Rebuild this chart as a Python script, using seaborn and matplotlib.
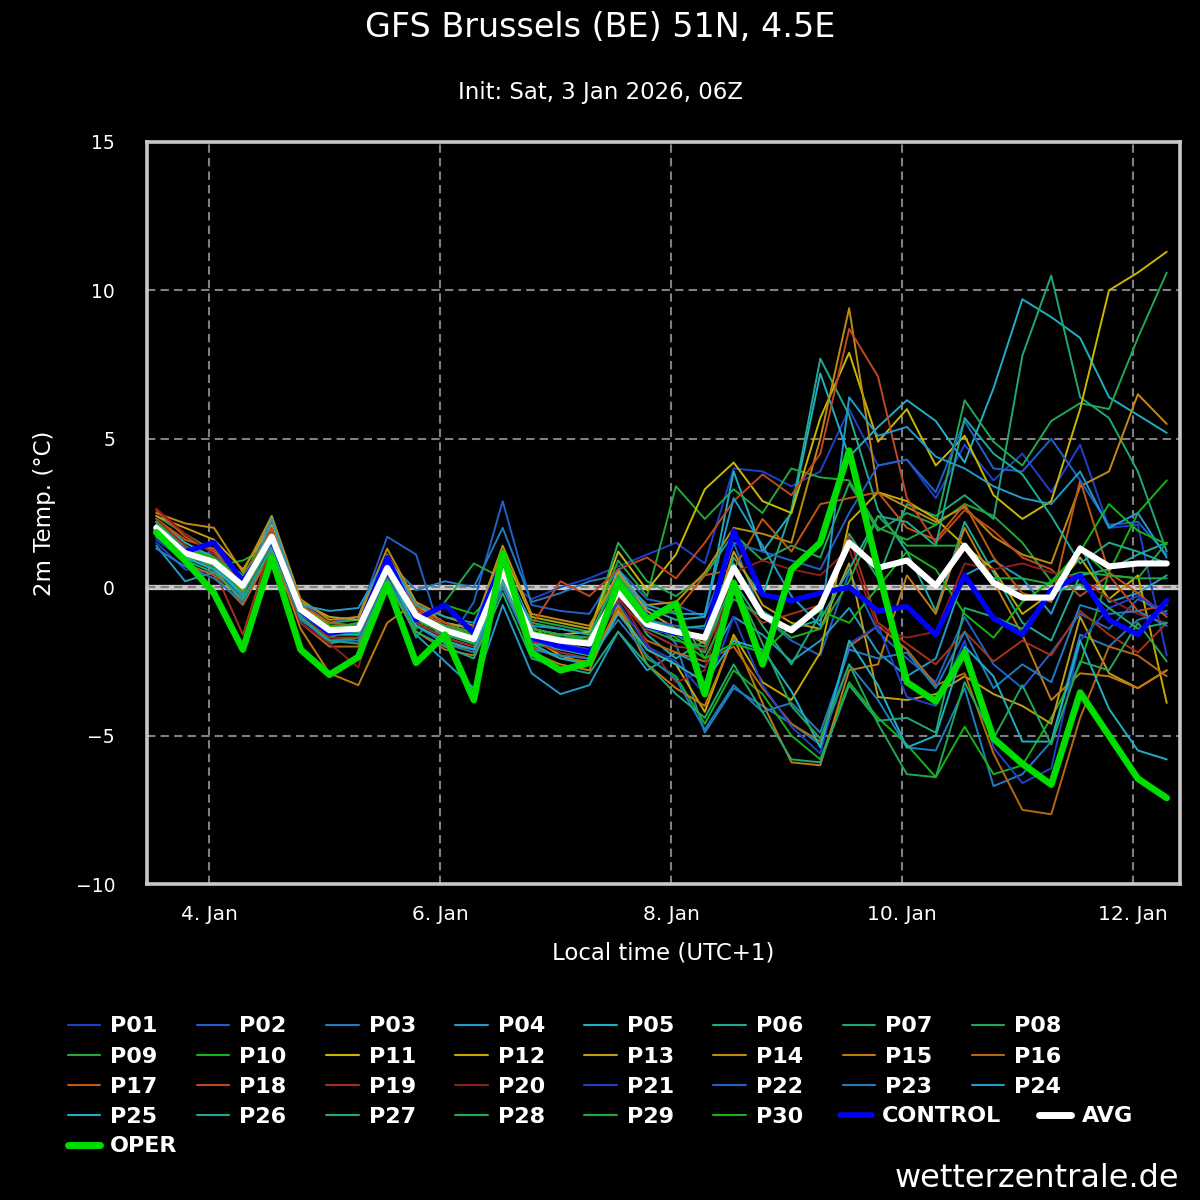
import matplotlib
matplotlib.use('Agg')
import numpy as np
import pandas as pd
import matplotlib.pyplot as plt
import seaborn as sns
from matplotlib.lines import Line2D

title = 'GFS Brussels (BE) 51N, 4.5E'
subtitle = 'Init: Sat, 3 Jan 2026, 06Z'
times = pd.date_range('2026-01-03 13:00', periods=36, freq='6h')
tick_dates = pd.to_datetime(['2026-01-04', '2026-01-06', '2026-01-08', '2026-01-10', '2026-01-12'])
tick_labels = ['4. Jan', '6. Jan', '8. Jan', '10. Jan', '12. Jan']
y_ticks = [-10, -5, 0, 5, 10, 15]

# ensemble members, 6-hourly, local time
p01 = [1.5, 0.6, 0.5, -0.3, 1.5, -0.9, -1.6, -1.5, 0.4, -1.2, -1.7, -2.0, 0.3,
       -0.4, 0.0, 0.3, 0.7, 1.1, 1.5, 0.8,
       4.0, 3.9, 3.4, 3.9, 6.0, 4.1, 4.3, 3.0, 4.8, 3.6, 4.5, 3.2, 4.8, 2.0, 2.1, -2.3]
p02 = [1.7, 1.3, 1.1, 0.2, 2.2, -0.5, -1.2, -1.0, 1.7, 1.1, -2.0, -0.5, 2.9,
       -0.6, -0.8, -0.9, 0.6, -0.4, -0.6, -1.0,
       1.5, -1.0, -1.8, -2.3, 0.5, -1.5, -2.4, -3.2, -1.0, -2.6, -3.4, -2.2, -0.9, -1.4, -0.4, -0.9]
p03 = [1.8, 1.0, 0.9, -0.1, 1.9, -0.7, -1.4, -1.2, 0.9, -0.1, 0.2, 0.0, 2.0,
       -0.5, -0.2, 0.2, 0.4, -0.9, -1.9, -4.9,
       -3.4, -4.0, -4.6, -5.3, -2.6, -3.8, -5.4, -5.5, -3.4, -6.7, -6.3, -5.2, -1.6, -2.0, -1.1, -0.8]
p04 = [1.4, 0.2, 0.5, -0.4, 1.6, -1.0, -1.9, -1.7, 0.2, -1.6, -2.5, -3.4, -0.6,
       -2.9, -3.6, -3.3, -1.5, -2.8, -2.2, -2.7,
       -1.0, -1.6, -2.5, -1.8, -0.7, -2.2, -3.0, -2.4, 0.4, 0.9, 0.3, -0.9, 1.4, -0.5, -0.2, 0.4]
p05 = [2.3, 1.5, 1.0, 0.2, 2.4, -0.6, -1.3, -1.6, 0.9, -0.7, -1.2, -1.4, 0.6,
       -1.5, -1.7, -1.8, 0.6, -0.7, -1.1, -1.0,
       3.9, 1.2, 2.5, 7.2, 4.4, 5.4, 6.3, 5.6, 4.2, 6.7, 9.7, 9.1, 8.4, 6.4, 5.8, 5.2]
p06 = [2.1, 1.1, 0.7, -0.2, 1.5, -1.1, -1.7, -1.3, 0.7, -1.0, -1.6, -1.9, 0.3,
       -1.9, -2.1, -2.3, 0.0, -1.6, -2.4, -1.8,
       1.0, -0.3, 2.6, 7.7, 5.8, 2.6, 1.2, -0.8, 2.2, 0.5, -1.2, -1.8, 0.4, 0.6, 1.1, 1.5]
p07 = [2.2, 1.2, 0.9, 0.0, 1.8, -0.8, -1.5, -1.5, 0.5, -1.1, -1.5, -1.8, 0.5,
       -1.8, -1.9, -2.1, -0.2, -1.4, -1.6, -2.2,
       0.2, -1.3, -2.6, -0.9, 1.8, 0.3, 2.8, 2.4, 3.1, 2.3, 7.8, 10.5, 6.4, 5.7, 3.9, 1.2]
p08 = [2.4, 1.8, 1.2, 0.4, 1.9, -0.6, -1.2, -1.1, 0.8, -0.8, -1.3, -1.6, 0.8,
       -1.2, -1.4, -1.6, 1.5, 0.2, -0.3, 0.4,
       1.8, 0.9, 1.4, 1.0, 3.5, 1.9, 2.5, 2.1, 6.3, 4.9, 4.1, 5.6, 6.2, 6.0, 8.4, 10.6]
p09 = [1.9, 1.4, 0.8, 0.1, 1.6, -0.9, -1.6, -1.4, 0.6, -1.7, -0.5, 0.8, 0.3,
       -1.1, -1.3, -1.5, 0.9, -0.3, 3.4, 2.3,
       3.3, 2.5, 4.0, 3.7, 3.6, 2.0, 1.6, 2.1, 2.8, 2.4, 1.5, 0.2, 0.5, 0.4, 0.3, 1.5]
p10 = [2.0, 1.0, 0.7, 0.9, 1.4, -1.0, -1.8, -1.7, 0.3, -1.4, -0.6, -0.9, 0.1,
       -1.3, -2.0, -2.2, -0.5, -2.4, -3.0, -4.6,
       -2.8, -3.6, -5.0, -5.8, -3.2, -4.4, -5.3, -6.4, -4.7, -6.3, -6.0, -4.4, -2.6, 0.5, 2.5, 3.6]
p11 = [2.2, 1.3, 1.0, 0.0, 1.8, -0.6, -1.3, -1.3, 0.8, -0.8, -1.4, -1.6, 1.0,
       -1.4, -1.6, -1.5, 1.2, -0.1, 1.1, 3.3,
       4.2, 2.9, 2.5, 5.7, 7.9, 4.9, 6.0, 4.1, 5.1, 3.1, 2.3, 2.9, 6.0, 10.0, 10.6, 11.3]
p12 = [2.0, 1.2, 0.8, -0.1, 1.7, -0.8, -1.5, -1.3, 0.7, -1.0, -1.5, -1.8, 0.4,
       -1.7, -2.3, -2.6, -0.8, -2.1, -2.6, -4.2,
       -1.6, -3.2, -3.8, -2.2, 2.2, 3.2, 2.9, 2.3, 1.4, 0.6, -0.9, -0.2, 1.0, -0.4, 0.4, -3.9]
p13 = [2.4, 2.0, 1.6, 0.6, 2.1, -0.5, -1.0, -1.1, 1.1, -0.6, -1.2, -1.4, 1.2,
       -1.0, -1.2, -1.4, 0.5, -0.8, -1.4, -1.9,
       1.2, -0.6, -1.2, -1.4, 0.8, -3.7, -3.8, -3.6, -3.0, -3.6, -4.0, -4.6, -1.0, -2.9, -3.4, -2.8]
p14 = [2.5, 2.15, 2.0, 0.5, 2.4, -0.4, -1.1, -1.0, 1.3, -0.5, -1.0, -1.3, 1.4,
       -0.9, -1.1, -1.3, 0.4, -0.6, -0.5, 0.5,
       2.0, 1.8, 1.5, 5.0, 9.4, 3.2, 2.7, 2.2, 2.7, 1.7, 1.1, 0.8, 3.4, 3.9, 6.5, 5.5]
p15 = [2.1, 1.0, 0.6, -0.5, 1.3, -1.4, -2.9, -3.3, -1.2, -0.5, -1.9, -2.1, 0.2,
       -2.2, -2.6, -2.8, -0.6, -2.6, -3.4, -4.0,
       -1.7, -3.9, -5.9, -6.0, -2.8, -2.6, 0.4, -0.9, 2.0, 0.2, -1.6, -3.8, -2.9, -3.0, -3.4, -2.8]
p16 = [1.8, 0.8, 0.4, -0.6, 1.2, -1.2, -2.0, -2.0, 0.1, -1.5, -2.1, -2.3, 0.0,
       -2.0, -2.4, -2.5, -0.7, -1.8, -2.2, -2.5,
       -2.0, -3.4, -4.6, -5.2, -2.0, -1.3, -2.1, -3.3, -2.9, -5.6, -7.5, -7.65, -4.4, -2.0, -2.3, -3.0]
p17 = [2.3, 1.6, 1.3, 0.3, 2.0, -0.6, -1.2, -1.3, 0.9, -0.8, -1.3, -1.5, 0.6,
       -1.6, -1.6, -1.7, -0.3, -1.0, -0.8, 0.4,
       0.6, 2.3, 1.2, 2.8, 3.0, 3.2, 2.0, 1.6, 2.8, 1.0, -0.2, -0.5, 3.6, 0.5, -0.2, -1.0]
p18 = [2.6, 1.7, 1.2, 0.1, 1.9, -0.7, -1.4, -1.3, 0.8, -0.7, -1.2, -1.6, 0.7,
       -1.3, 0.2, -0.3, 0.6, 1.0, 0.3, 1.5,
       2.9, 3.8, 3.1, 4.5, 8.7, 7.1, 3.0, 1.5, 2.6, 1.9, 1.0, 0.6, -0.3, 0.4, -0.8, -0.6]
p19 = [2.3, 1.4, 0.6, -1.6, 1.5, -1.0, -1.7, -1.7, 0.5, -1.2, -1.7, -2.0, 0.4,
       -1.8, -2.2, -2.4, -0.4, -1.5, -2.0, -2.1,
       -0.2, -1.2, -0.9, -0.6, 1.7, -1.2, -1.9, -2.6, -1.5, -2.5, -1.8, -2.3, -0.8, -1.6, -2.2, -1.2]
p20 = [2.65, 1.8, 1.1, -0.3, 1.6, -1.2, -1.9, -2.7, 0.4, -1.3, -1.8, -2.1, 0.3,
       -1.7, -2.0, -2.2, -0.3, -1.9, -3.2, -2.8,
       0.5, 0.9, 0.6, 0.4, 1.3, -1.4, -1.7, -1.5, 0.8, 0.6, 0.8, 0.5, 0.3, -0.4, -0.9, -1.2]
p21 = [1.6, 0.9, 0.8, -0.2, 1.7, -0.8, -1.5, -1.6, 0.6, -1.0, -1.5, -1.8, 0.5,
       -1.5, -1.9, -2.1, -0.5, -2.0, -2.5, -3.6,
       -1.0, -3.3, -4.7, -5.6, -1.9, -1.3, -3.7, -4.0, -1.8, -5.4, -6.6, -6.1, -1.8, -0.7, -0.3, -0.9]
p22 = [1.9, 1.1, 0.9, 0.1, 1.8, -0.7, -1.4, -1.4, 0.7, -0.9, -1.4, -1.7, 0.6,
       -1.6, -1.7, -1.9, -0.2, -1.1, -1.3, -1.4,
       1.5, 1.2, 0.9, 0.6, 2.5, 4.1, 4.3, 3.2, 5.6, 4.0, 3.9, 5.0, 3.6, 2.1, 2.2, 1.1]
p23 = [1.3, 0.7, 0.3, -0.5, 1.4, -1.1, -1.8, -1.8, 0.3, -1.3, -1.9, -2.2, 0.0,
       -2.1, -2.3, -2.4, -1.1, -2.3, -3.1, -4.8,
       -3.3, -4.2, -3.9, -4.9, -2.1, -2.4, -2.2, -3.4, -1.5, -3.4, -2.6, -3.2, -0.6, -0.9, -0.8, -1.3]
p24 = [2.0, 1.1, 0.7, -0.3, 2.3, -0.6, -0.8, -0.7, 1.0, -0.6, -1.0, -1.2, 0.9,
       -1.3, -1.4, -1.6, 0.3, -0.6, -0.9, -0.9,
       3.0, 1.4, -0.3, -1.3, 6.4, 5.1, 5.4, 4.4, 4.0, 3.4, 3.0, 2.8, 3.9, 2.0, 2.5, 1.0]
p25 = [1.7, 1.0, 0.6, -0.2, 1.7, -0.9, -1.6, -1.6, 0.5, -1.3, -1.8, -2.1, 0.2,
       -1.9, -2.4, -2.6, -0.9, -2.1, -2.6, -3.2,
       -1.8, -2.1, -3.5, -5.4, -1.8, -3.3, -5.4, -5.0, -2.0, -3.0, -5.2, -5.2, -1.8, -4.1, -5.5, -5.8]
p26 = [2.1, 1.2, 0.9, 0.0, 1.7, -0.8, -1.4, -1.4, 0.7, -0.9, -1.4, -1.7, 0.6,
       -1.4, -1.6, -1.8, 0.1, -1.1, -1.4, -1.3,
       0.8, -0.8, -1.4, -1.1, 0.6, 2.4, 2.2, 1.4, 5.7, 4.5, 3.8, 2.4, 0.8, 1.5, 1.2, 0.8]
p27 = [1.8, 0.9, 0.5, -0.4, 1.3, -1.0, -1.8, -1.9, 0.2, -1.5, -2.0, -2.4, -0.2,
       -2.4, -2.7, -2.9, -1.5, -2.6, -3.6, -4.4,
       -2.6, -4.2, -5.8, -5.9, -3.3, -4.5, -4.4, -4.9, -0.7, -1.0, -1.4, -0.2, 0.1, -0.7, -1.4, -1.2]
p28 = [2.2, 1.3, 0.8, -0.2, 1.5, -0.8, -1.6, -1.5, 0.5, -1.1, -1.6, -1.9, 0.4,
       -1.9, -2.0, -2.3, 0.2, -1.4, -1.8, -2.0,
       0.2, -1.9, -4.0, -5.1, -2.6, -4.6, -6.3, -6.4, -3.2, -5.1, -3.3, -5.3, -2.5, -2.8, -1.2, -2.5]
p29 = [1.9, 1.1, 0.7, 0.2, 1.6, -0.7, -1.4, -1.2, 0.8, -1.0, -1.3, -1.5, 0.7,
       -1.4, -1.6, -1.7, 0.4, -1.0, -0.8, -2.4,
       -0.4, -1.0, -1.7, -1.4, 0.2, 2.4, 1.4, 1.4, 1.4, 0.3, 0.3, 0.1, 1.3, 0.4, 0.3, 0.3]
p30 = [2.0, 1.3, 1.0, 0.3, 1.8, -0.7, -1.3, -1.3, 0.7, -1.0, -1.4, -1.6, 0.6,
       -1.5, -1.7, -1.8, 0.0, -1.1, -1.7, -2.4,
       -1.9, -2.2, -1.3, -0.8, -1.2, 0.0, 1.2, 0.6, -0.9, -1.7, -0.5, 0.2, 1.2, 2.8, 1.9, 1.45]

control = [2.0, 1.2, 1.5, 0.2, 1.6, -0.8, -1.55, -1.4, 1.0, -1.1, -0.6, -1.55, 0.9,
           -1.7, -2.0, -2.2, 0.05, -1.3, -1.55, -1.7,
           1.9, -0.25, -0.45, -0.2, 0.0, -0.8, -0.65, -1.6, 0.4, -1.05, -1.6, -0.1, 0.4, -1.1, -1.6, -0.45]
avg = [2.0, 1.15, 0.85, 0.05, 1.7, -0.75, -1.45, -1.4, 0.65, -0.95, -1.45, -1.75, 0.55,
       -1.6, -1.8, -1.9, -0.15, -1.25, -1.5, -1.7,
       0.65, -0.95, -1.45, -0.65, 1.5, 0.65, 0.9, 0.05, 1.4, 0.15, -0.35, -0.35, 1.3, 0.7, 0.8, 0.8]
oper = [1.85, 0.9, -0.2, -2.1, 1.0, -2.1, -2.95, -2.35, 0.1, -2.55, -1.6, -3.8, 1.15,
        -2.2, -2.8, -2.55, 0.15, -1.1, -0.55, -3.6,
        0.15, -2.6, 0.6, 1.5, 4.6, 0.6, -3.2, -3.85, -2.2, -5.1, -5.95, -6.65, -3.55, -5.0, -6.45, -7.1]

members = [p01, p02, p03, p04, p05, p06, p07, p08, p09, p10,
           p11, p12, p13, p14, p15, p16, p17, p18, p19, p20,
           p21, p22, p23, p24, p25, p26, p27, p28, p29, p30]
member_names = ['P%02d' % i for i in range(1, 31)]
cold_cols = ['#2040cc', '#2060c8', '#207cc0', '#209ac8', '#20afc0',
             '#20aa92', '#20a874', '#20a854', '#20a83c', '#14b414']
warm_cols = ['#c8b800', '#c8a800', '#c09c18', '#c08c10', '#c07a10',
             '#b86810', '#c05810', '#c04820', '#a83018', '#901c1c']
member_colors = cold_cols + warm_cols + cold_cols

df = pd.DataFrame({'time': times})
for name, vals in zip(member_names, members):
    df[name] = vals
df['CONTROL'] = control
df['AVG'] = avg
df['OPER'] = oper

sns.set_theme(style='dark', rc={'figure.facecolor': 'black', 'axes.facecolor': 'black',
                                'text.color': 'white', 'axes.labelcolor': 'white',
                                'xtick.color': 'white', 'ytick.color': 'white'})
plt.rcParams['font.family'] = ['DejaVu Sans']

fig = plt.figure(figsize=(12, 12), dpi=100)
ax = fig.add_axes([0.1225, 0.2633, 0.8608, 0.6184])

for name, c in zip(member_names, member_colors):
    sns.lineplot(data=df, x='time', y=name, color=c, linewidth=1.4, ax=ax, zorder=3)
sns.lineplot(data=df, x='time', y='CONTROL', color='#0000ff', linewidth=3.8, ax=ax, zorder=4)
sns.lineplot(data=df, x='time', y='AVG', color='white', linewidth=4.4, ax=ax, zorder=5)
sns.lineplot(data=df, x='time', y='OPER', color='#00dd00', linewidth=4.8, ax=ax, zorder=6)
if ax.get_legend():
    ax.get_legend().remove()

ax.set_xlim(pd.Timestamp('2026-01-03 11:05'), pd.Timestamp('2026-01-12 09:45'))
ax.set_ylim(-10, 15)
ax.set_yticks(y_ticks)
ax.set_xticks(tick_dates)
ax.set_xticklabels(tick_labels)

ax.set_axisbelow(True)
ax.grid(True, color='#808080', linestyle=(0, (4, 2.5)), linewidth=1.5)
ax.axhline(0, color='#c8c8c8', linewidth=3.8, zorder=0.4)
for s in ax.spines.values():
    s.set_color('#c8c8c8')
    s.set_linewidth(2.6)

ax.tick_params(axis='y', length=0, pad=23, labelsize=13.5, labelcolor='white')
ax.tick_params(axis='x', length=12, width=1.2, color='#ccd6eb', pad=3, labelsize=14.5, labelcolor='white')

ax.set_xlabel('Local time (UTC+1)', fontsize=16.5, color='white')
ax.set_ylabel('2m Temp. (°C)', fontsize=16.5, color='white')
ax.xaxis.set_label_coords(0.5, -0.077)
ax.yaxis.set_label_coords(-0.088, 0.5)

fig.text(0.5, 0.977, title, ha='center', va='center', fontsize=24, color='white')
fig.text(0.5, 0.923, subtitle, ha='center', va='center', fontsize=16.5, color='white')
fig.text(0.983, 0.0183, 'wetterzentrale.de', ha='right', va='center', fontsize=23, color='white')

# legend: P-members row-wise in 8 columns, then CONTROL/AVG and OPER
handles = [Line2D([], [], color=c, lw=1.5) for c in member_colors]
order = [r * 8 + c for c in range(8) for r in range(4) if r * 8 + c < 30]
leg_kw = dict(loc='upper left', frameon=False, prop={'weight': 'bold', 'size': 16},
              handlelength=1.45, handletextpad=0.45, columnspacing=1.78, labelspacing=0.46,
              borderpad=0, borderaxespad=0, labelcolor='white')
leg1 = fig.legend([handles[i] for i in order], [member_names[i] for i in order], ncol=8,
                  bbox_to_anchor=(0.0567, 0.153), **leg_kw)
leg2 = fig.legend([Line2D([], [], color='#0000ff', lw=4), Line2D([], [], color='white', lw=5)],
                  ['CONTROL', 'AVG'], ncol=2, bbox_to_anchor=(0.7, 0.078), **{**leg_kw, 'columnspacing': 1.7})
leg3 = fig.legend([Line2D([], [], color='#00dd00', lw=5)], ['OPER'], ncol=1,
                  bbox_to_anchor=(0.0567, 0.053), **leg_kw)

fig.savefig('out.png', dpi=100, facecolor='black')
